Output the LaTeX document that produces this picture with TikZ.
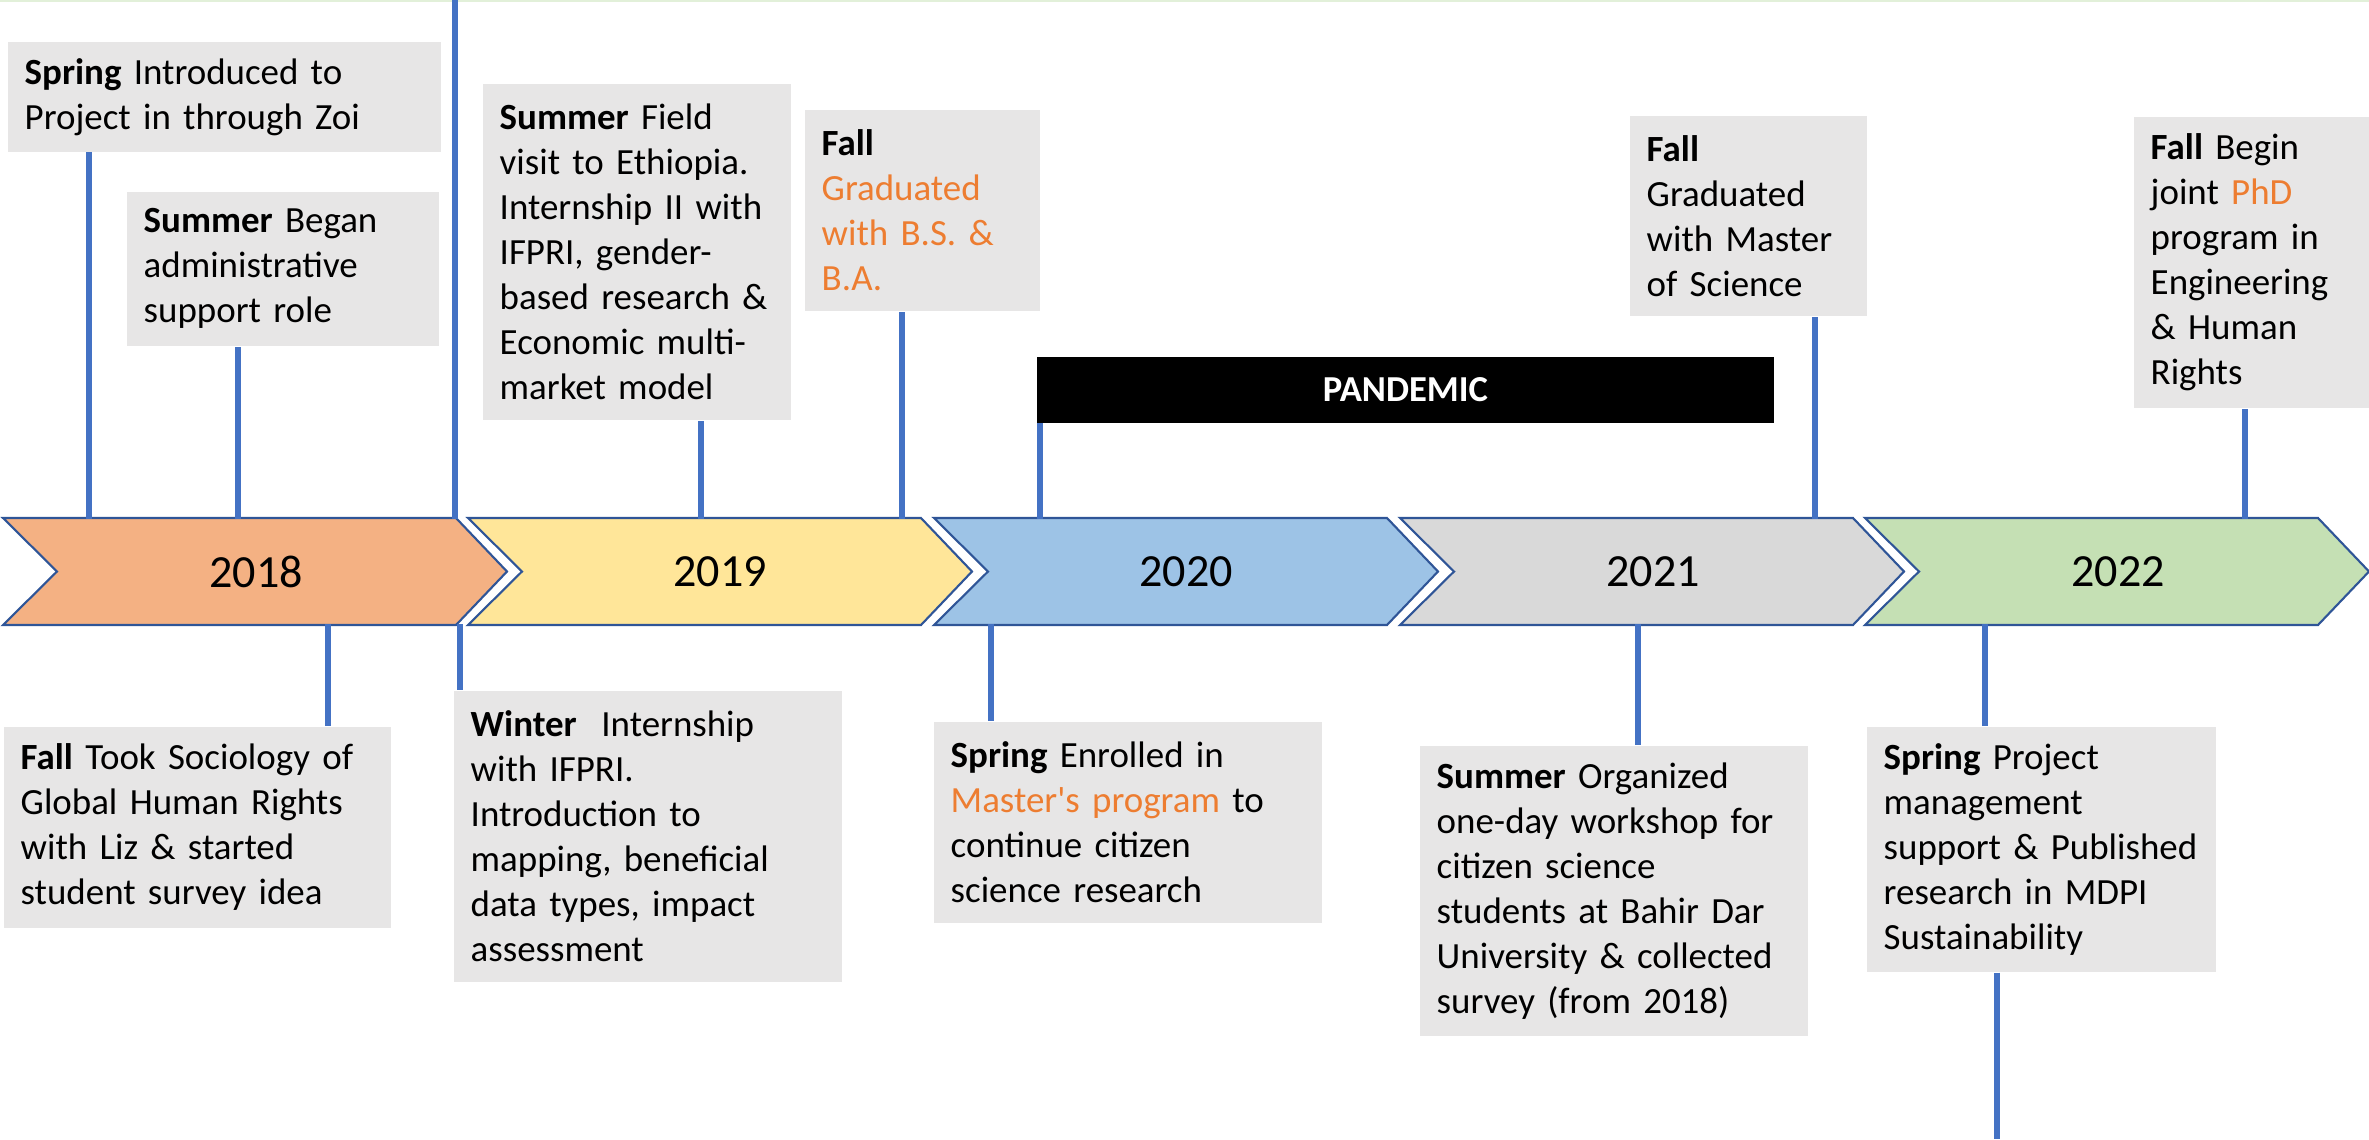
\documentclass[tikz,border=0pt]{standalone}
\usepackage{fontspec}
\setmainfont{Carlito}
\usepackage{xcolor}
\definecolor{chevblue}{HTML}{2F5597}
\definecolor{linkblue}{HTML}{4472C4}
\definecolor{noteorange}{HTML}{ED7D31}
\definecolor{notegray}{HTML}{E7E6E6}
\definecolor{topgreen}{HTML}{E2F0D9}
\definecolor{yr18}{HTML}{F4B183}
\definecolor{yr19}{HTML}{FFE699}
\definecolor{yr20}{HTML}{9DC3E6}
\definecolor{yr21}{HTML}{D9D9D9}
\definecolor{yr22}{HTML}{C5E0B4}
\tikzset{%
    chev/.style={draw=chevblue, line width=0.6pt},
    yearlbl/.style={font=\fontsize{13.1}{15.7}\selectfont},
    note/.style={fill=notegray, anchor=north west, inner xsep=0.17cm, inner ysep=0pt,
        align=left, font=\fontsize{10.5}{12.8}\selectfont},
    link/.style={draw=linkblue, line width=1.56pt}
}
\newcommand{\hl}[1]{\textcolor{noteorange}{#1}}

\begin{document}
\begin{tikzpicture}[x=0.01cm,y=-0.01cm]
    \useasboundingbox (0,0) rectangle (2369,1139);
    \draw[topgreen, line width=0.6pt] (0,1)--(2369,1);
    % year chevrons
    \filldraw[chev, fill=yr18] (3,518)--(456,518)--(507,571.5)--(456,625)--(3,625)--(57,571.5)--cycle;
    \filldraw[chev, fill=yr19] (468,518)--(921,518)--(972,571.5)--(921,625)--(468,625)--(522,571.5)--cycle;
    \filldraw[chev, fill=yr20] (934,518)--(1387,518)--(1438,571.5)--(1387,625)--(934,625)--(988,571.5)--cycle;
    \filldraw[chev, fill=yr21] (1400,518)--(1853,518)--(1904,571.5)--(1853,625)--(1400,625)--(1454,571.5)--cycle;
    \filldraw[chev, fill=yr22] (1865,518)--(2318,518)--(2369,571.5)--(2318,625)--(1865,625)--(1919,571.5)--cycle;
    \node[yearlbl] (y2018) at (256,572) {2018};
    \node[yearlbl] (y2019) at (720,572) {2019};
    \node[yearlbl] (y2020) at (1186,572) {2020};
    \node[yearlbl] (y2021) at (1653,572) {2021};
    \node[yearlbl] (y2022) at (2118,572) {2022};

    % notes above the arrows
    \node[note, text width=3.99cm, minimum height=1.10cm] (spring18) at (7,41)
        {\textbf{Spring} Introduced to\\Project in through Zoi};
    \node[note, text width=2.78cm, minimum height=1.54cm] (summer18) at (126,191)
        {\textbf{Summer} Began\\administrative\\support role};
    \node[note, text width=2.74cm, minimum height=3.36cm] (summer19) at (482,83)
        {\textbf{Summer} Field\\visit to Ethiopia.\\Internship II with\\IFPRI, gender-\\based research \&\\Economic multi-\\market model};
    \node[note, text width=2.01cm, minimum height=2.01cm] (fall19) at (804,109)
        {\textbf{Fall}\\\hl{Graduated}\\\hl{with B.S. \&}\\\hl{B.A.}};
    \node[fill=black, anchor=north west, inner sep=0pt, minimum width=7.37cm, minimum height=0.66cm,
        text=white, font=\bfseries\fontsize{10.4}{12.5}\selectfont] (pandemic) at (1036,356) {PANDEMIC};
    \node[note, text width=2.03cm, minimum height=2.00cm] (fall21) at (1629,115)
        {\textbf{Fall}\\Graduated\\with Master\\of Science};
    \node[note, text width=2.02cm, minimum height=2.91cm] (fall22) at (2133,116)
        {\textbf{Fall} Begin\\joint \hl{PhD}\\program in\\Engineering\\\& Human\\Rights};

    % notes below the arrows
    \node[note, text width=3.53cm, minimum height=2.01cm] (fall18) at (3,726)
        {\textbf{Fall} Took Sociology of\\Global Human Rights\\with Liz \& started\\student survey idea};
    \node[note, text width=3.54cm, minimum height=2.91cm] (winter19) at (453,690)
        {\textbf{Winter}\ \ Internship\\with IFPRI.\\Introduction to\\mapping, beneficial\\data types, impact\\assessment};
    \node[note, text width=3.54cm, minimum height=2.01cm] (spring20) at (933,721)
        {\textbf{Spring} Enrolled in\\\hl{Master\textquotesingle s program} to\\continue citizen\\science research};
    \node[note, text width=3.54cm, minimum height=2.90cm] (summer21) at (1419,745)
        {\textbf{Summer} Organized\\one-day workshop for\\citizen science\\students at Bahir Dar\\University \& collected\\survey (from 2018)};
    \node[note, text width=3.15cm, minimum height=2.45cm] (spring22) at (1866,726)
        {\textbf{Spring} Project\\management\\support \& Published\\research in MDPI\\Sustainability};

    % connector ends on the chevrons
    \coordinate (a1) at (89,519);
    \coordinate (a2) at (238,519);
    \coordinate (a3) at (455,519);
    \coordinate (topedge) at (455,0);
    \coordinate (a4) at (701,519);
    \coordinate (a5) at (902,519);
    \coordinate (a6) at (1040,519);
    \coordinate (a7) at (1815,519);
    \coordinate (a8) at (2245,519);
    \coordinate (b1) at (328,624);
    \coordinate (b2) at (460,624);
    \coordinate (b3) at (991,624);
    \coordinate (b4) at (1638,624);
    \coordinate (b5) at (1985,624);
    \coordinate (bottomedge) at (1997,1139);

    \draw[link] (a1)--(a1 |- spring18.south);
    \draw[link] (a2)--(a2 |- summer18.south);
    \draw[link] (a3)--(topedge);
    \draw[link] (a4)--(a4 |- summer19.south);
    \draw[link] (a5)--(a5 |- fall19.south);
    \draw[link] (a6)--(a6 |- pandemic.south);
    \draw[link] (a7)--(a7 |- fall21.south);
    \draw[link] (a8)--(a8 |- fall22.south);
    \draw[link] (b1)--(b1 |- fall18.north);
    \draw[link] (b2)--(b2 |- winter19.north);
    \draw[link] (b3)--(b3 |- spring20.north);
    \draw[link] (b4)--(b4 |- summer21.north);
    \draw[link] (b5)--(b5 |- spring22.north);
    \draw[link] (spring22.south -| bottomedge)--(bottomedge);
\end{tikzpicture}
\end{document}
